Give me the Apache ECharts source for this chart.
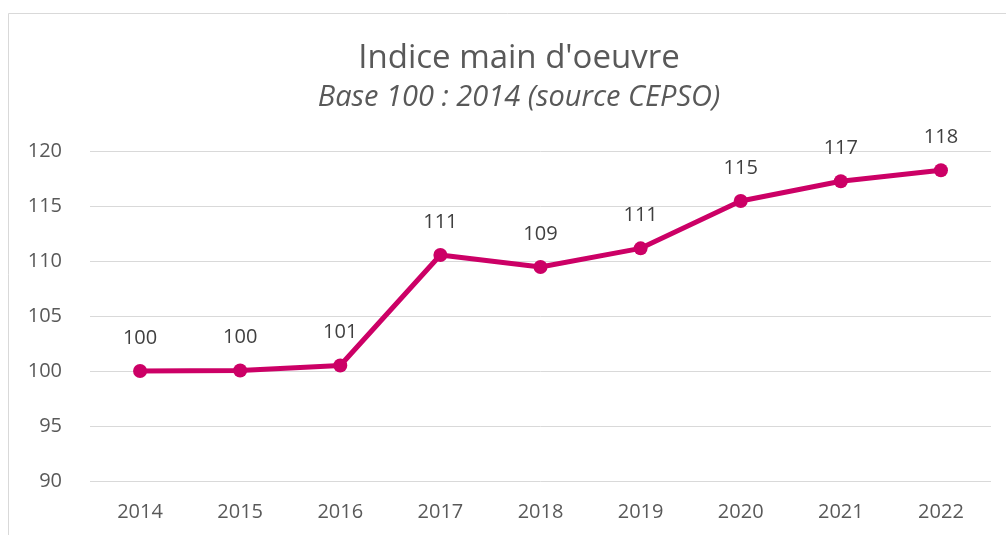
<!DOCTYPE html>
<html>
<head>
<meta charset="utf-8">
<script src="https://cdn.jsdelivr.net/npm/echarts@6/dist/echarts.min.js"></script>
<style>
  html, body { margin: 0; padding: 0; background: #fff; }
  #chart { width: 1006px; height: 535px; }
</style>
</head>
<body>
<div id="chart"></div>
<script>
// données
var years = ['2014', '2015', '2016', '2017', '2018', '2019', '2020', '2021', '2022'];
var indice = [100, 100.05, 100.5, 110.55, 109.45, 111.15, 115.45, 117.25, 118.25];

var chart = echarts.init(document.getElementById('chart'));

chart.setOption({
  backgroundColor: '#fff',
  textStyle: { fontFamily: 'Open Sans' },
  graphic: [{
    type: 'rect',
    shape: { x: 8.5, y: 13.5, width: 1010, height: 540 },
    style: { fill: 'none', stroke: '#D9D9D9', lineWidth: 1 },
    silent: true
  }],
  title: {
    text: "Indice main d'oeuvre",
    subtext: 'Base 100 : 2014 (source CEPSO)',
    left: 514,
    textAlign: 'center',
    top: 37,
    itemGap: 8,
    textStyle: {
      color: '#595959',
      fontSize: 33,
      fontWeight: 'normal',
      fontFamily: 'Open Sans'
    },
    subtextStyle: {
      color: '#595959',
      fontSize: 29,
      fontStyle: 'italic',
      fontFamily: 'Open Sans'
    }
  },
  grid: {
    left: 90,
    right: 15,
    top: 151,
    bottom: 54
  },
  xAxis: {
    type: 'category',
    data: years,
    boundaryGap: true,
    axisLine: { show: false },
    axisTick: { show: false },
    axisLabel: {
      color: '#595959',
      fontSize: 20,
      margin: 21
    }
  },
  yAxis: {
    type: 'value',
    min: 90,
    max: 120,
    interval: 5,
    axisLine: { show: false },
    axisTick: { show: false },
    axisLabel: {
      color: '#595959',
      fontSize: 20,
      margin: 28
    },
    splitLine: {
      lineStyle: { color: '#D9D9D9', width: 1 }
    }
  },
  series: [{
    type: 'line',
    data: indice,
    symbol: 'circle',
    symbolSize: 14,
    lineStyle: { color: '#CC0066', width: 5 },
    itemStyle: { color: '#CC0066' },
    label: {
      show: true,
      position: 'top',
      distance: 16,
      color: '#404040',
      fontSize: 20,
      formatter: function (p) {
        return Math.round(p.value);
      }
    },
    animation: false
  }]
});
</script>
</body>
</html>
